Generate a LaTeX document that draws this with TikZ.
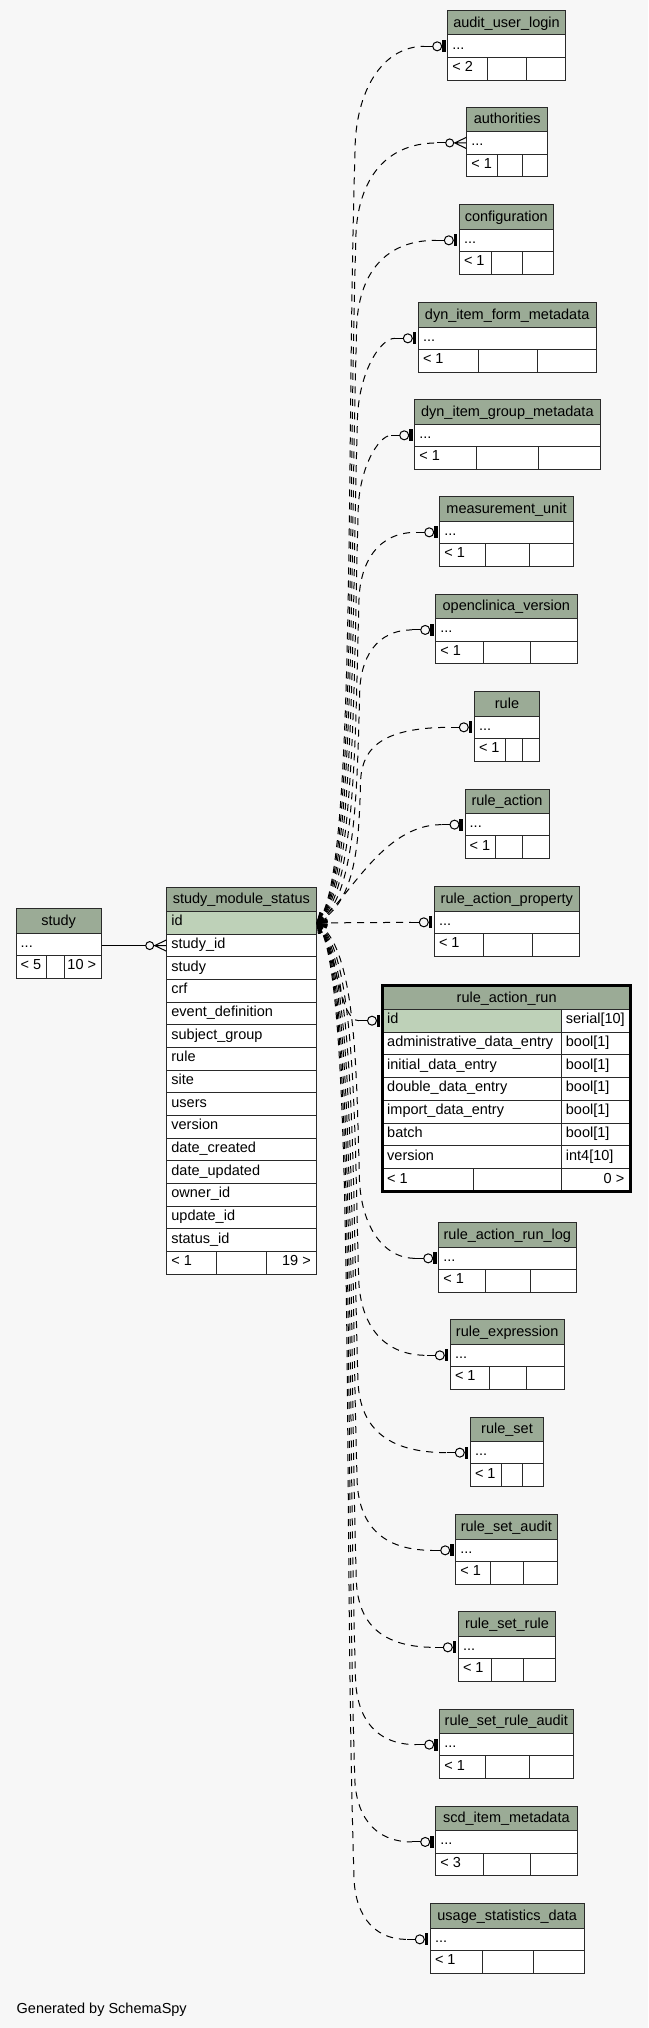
\documentclass[tikz,border=0pt]{standalone}
\usepackage{fontspec}
\setmainfont{Liberation Sans}
\usetikzlibrary{arrows.meta,fit,calc}
\definecolor{bg}{HTML}{F7F7F7}
\definecolor{hdr}{HTML}{9BAB96}
\definecolor{keyc}{HTML}{BED1B8}
\definecolor{bd}{HTML}{2A2A2A}
\tikzset{
 tline/.style={draw=bd, line width=1pt},
 hdrbox/.style={tline, fill=hdr, inner sep=0pt},
 rowbox/.style={tline, fill=white, inner sep=0pt},
 keybox/.style={tline, fill=keyc, inner sep=0pt},
 txt/.style={inner sep=0pt, font=\fontsize{14.5}{16}\selectfont, text=black},
 ctxt/.style={txt, anchor=base},
 ltxt/.style={txt, anchor=base west},
 rtxt/.style={txt, anchor=base east},
 fkline/.style={draw=black, line width=1pt, dash pattern=on 7pt off 6pt, {Straight Barb[length=9pt,width=10pt]}-},
 stemline/.style={draw=black, line width=1pt},
}
% small table: #1 node name, #2 title, #3 left, #4 right, #5 top, #6 split A, #7 split B, #8 footer
\newcommand{\tbl}[8]{%
 \node[hdrbox, fit={(#3,#5) ({#4},{#5+24.3})}] (#1-h) {};
 \node[ctxt] (#1-ht) at ({(#3+#4)/2},{#5+16.5}) {#2};
 \node[rowbox, fit={(#3,{#5+24.3}) (#4,{#5+46.95})}] (#1) {};
 \node[ltxt] (#1-dt) at ({#3+4.5},{#5+24.3+14.3}) {...};
 \node[rowbox, fit={(#3,{#5+46.95}) (#4,{#5+69.6})}] (#1-f) {};
 \draw[tline] (#6,{#5+46.95}) -- (#6,{#5+69.6}) (#7,{#5+46.95}) -- (#7,{#5+69.6});
 \node[ltxt] (#1-ft) at ({#3+4.5},{#5+46.95+14.3}) {#8};
}
% connector from study_module_status.id: #1 target node, #2 target y, #3 sign, #4 stem length, #5 bend size
\newcommand{\fk}[5]{%
 \pgfmathsetmacro{\fkdy}{abs(#2-922.9)}
 \pgfmathsetmacro{\fkxv}{362-0.008*\fkdy}
 \pgfmathsetmacro{\fkR}{#5}
 \pgfmathsetmacro{\fkVy}{#2-(#3)*\fkR}
 \pgfmathsetmacro{\fkCx}{\fkxv-0.012*(\fkdy-\fkR)}
 \pgfmathsetmacro{\fkCy}{\fkVy-(#3)*0.4*(\fkdy-\fkR)}
 \pgfmathsetmacro{\fkDy}{#2-(#3)*0.42*\fkR}
 \pgfmathsetmacro{\fkDx}{\fkxv+0.26*\fkR}
 \pgfmathsetmacro{\fkAy}{(#3)*(15+0.03*\fkdy)}
 \coordinate (#1-e) at ($(#1.west)+(-#4,0)$);
 \draw[fkline] (S) .. controls +(40,{\fkAy}) and ({\fkCx},{\fkCy}) .. ({\fkxv},{\fkVy}) .. controls ({\fkxv},{\fkDy}) and ({\fkDx},{#2}) .. (#1-e);
}
\newcommand{\zeroone}[1]{%
 \draw[stemline] ($(#1.west)+(-23,0)$) -- ($(#1.west)+(-14.5,0)$);
 \draw[stemline, fill=bg] ($(#1.west)+(-10,0)$) circle (4.5pt);
 \fill[black] ($(#1.west)+(-5.2,-6)$) rectangle ($(#1.west)+(-1.7,6)$);
}
\newcommand{\crowend}[1]{%
 \draw[stemline, fill=bg] ($(#1.west)+(-16.5,0)$) circle (4pt);
 \draw[stemline] ($(#1.west)+(-12.5,0)$) -- (#1.west)
   ($(#1.west)+(-11.5,0)$) -- ($(#1.west)+(0,-5.5)$)
   ($(#1.west)+(-11.5,0)$) -- ($(#1.west)+(0,5.5)$);
}
\begin{document}
\begin{tikzpicture}[x=1pt,y=-1pt]
\fill[bg] (0,0) rectangle (648,2028);
\useasboundingbox (0,0) rectangle (648,2028);

% ---- study
\node[hdrbox, fit={(16,908.7) (101.3,933)}] (study-h) {};
\node[ctxt] (study-ht) at (58.65,925.2) {study};
\node[rowbox, fit={(16,933) (101.3,955.65)}] (study-d) {};
\node[ltxt] (study-dt) at (20.5,947.3) {...};
\node[rowbox, fit={(16,955.65) (101.3,978.3)}] (study-f) {};
\draw[tline] (46.7,955.65) -- (46.7,978.3) (64,955.65) -- (64,978.3);
\node[ltxt] (study-f1) at (20.5,969.95) {< 5};
\node[rtxt] (study-f2) at (96.3,969.95) {10 >};

% ---- study_module_status
\node[hdrbox, fit={(166.7,887.3) (316,911.6)}] (sms-h) {};
\node[ctxt] (sms-ht) at (241.35,903.8) {study\_module\_status};
\node[keybox, fit={(166.7,911.6) (316,934.25)}] (smsid) {};
\node[ltxt] (smsidt) at (171.2,925.9) {id};
\foreach \i/\t in {1/study\_id,2/study,3/crf,4/event\_definition,5/subject\_group,6/rule,7/site,8/users,9/version,10/date\_created,11/date\_updated,12/owner\_id,13/update\_id,14/status\_id}{
 \node[rowbox, fit={(166.7,{911.6+\i*22.65}) (316,{911.6+\i*22.65+22.65})}] (sms\i) {};
 \node[ltxt] (smst\i) at (171.2,{911.6+\i*22.65+14.3}) {\t};
}
\node[rowbox, fit={(166.7,1251.35) (316,1274)}] (smsf) {};
\draw[tline] (216.7,1251.35) -- (216.7,1274) (266.7,1251.35) -- (266.7,1274);
\node[ltxt] (smsf1) at (171.2,1265.65) {< 1};
\node[rtxt] (smsf2) at (311,1265.65) {19 >};
\coordinate (S) at (smsid.east);

% ---- small tables
\tbl{aul}{audit\_user\_login}{447.7}{565.3}{10.7}{487.7}{526.3}{< 2}
\tbl{auth}{authorities}{466.7}{547.7}{107.3}{497}{522.3}{< 1}
\tbl{conf}{configuration}{459.3}{553.3}{204.7}{491.7}{522.7}{< 1}
\tbl{difm}{dyn\_item\_form\_metadata}{418.3}{596}{302.7}{478.7}{537}{< 1}
\tbl{digm}{dyn\_item\_group\_metadata}{414.7}{600}{399.7}{476.5}{538}{< 1}
\tbl{mu}{measurement\_unit}{439.7}{573.3}{496.7}{485}{529}{< 1}
\tbl{ocv}{openclinica\_version}{435.7}{577}{594.3}{483.7}{530.7}{< 1}
\tbl{rule}{rule}{474.3}{539.7}{691.7}{505}{522.3}{< 1}
\tbl{ra}{rule\_action}{465}{549}{789}{495.7}{522.3}{< 1}
\tbl{rap}{rule\_action\_property}{434.3}{579.3}{886.7}{483.7}{532}{< 1}
\tbl{rarl}{rule\_action\_run\_log}{438.7}{576}{1222.7}{485}{530.3}{< 1}
\tbl{rexp}{rule\_expression}{450.3}{564}{1319.7}{489}{526.7}{< 1}
\tbl{rset}{rule\_set}{470.3}{543.7}{1417}{501}{522.3}{< 1}
\tbl{rsa}{rule\_set\_audit}{455.7}{557}{1514.7}{490.3}{523.7}{< 1}
\tbl{rsr}{rule\_set\_rule}{458.3}{555.7}{1611.7}{491.7}{523.7}{< 1}
\tbl{rsra}{rule\_set\_rule\_audit}{439.7}{573}{1709}{485}{529}{< 1}
\tbl{scd}{scd\_item\_metadata}{435.7}{577}{1806.3}{483.7}{530.3}{< 3}
\tbl{usd}{usage\_statistics\_data}{430.3}{584}{1903.7}{482.3}{533}{< 1}

% ---- rule_action_run
\node[hdrbox, fit={(382.5,985.5) (630.8,1009.3)}] (rar-h) {};
\node[ctxt] (rar-ht) at (506.65,1002) {rule\_action\_run};
\node[keybox, fit={(382.5,1009.3) (561,1032.08)}] (rarid) {};
\node[rowbox, fit={(561,1009.3) (630.8,1032.08)}] (rarid-t) {};
\node[ltxt] (raridn) at (387,1023.6) {id};
\node[ltxt] (raridty) at (565.7,1023.6) {serial[10]};
\foreach \i/\n/\t in {1/administrative\_data\_entry/bool[1],2/initial\_data\_entry/bool[1],3/double\_data\_entry/bool[1],4/import\_data\_entry/bool[1],5/batch/bool[1],6/version/int4[10]}{
 \node[rowbox, fit={(382.5,{1009.3+\i*22.78}) (561,{1009.3+\i*22.78+22.78})}] (rarn\i) {};
 \node[rowbox, fit={(561,{1009.3+\i*22.78}) (630.8,{1009.3+\i*22.78+22.78})}] (rart\i) {};
 \node[ltxt] (rarnt\i) at (387,{1009.3+\i*22.78+14.3}) {\n};
 \node[ltxt] (rartt\i) at (565.7,{1009.3+\i*22.78+14.3}) {\t};
}
\node[rowbox, fit={(382.5,1168.76) (630.8,1191.5)}] (rarf) {};
\draw[tline] (473.3,1168.76) -- (473.3,1191.5) (561,1168.76) -- (561,1191.5);
\node[ltxt] (rarf1) at (387,1183.06) {< 1};
\node[rtxt] (rarf2) at (624.5,1183.06) {0 >};
\draw[draw=black, line width=3pt] (382.5,985.5) rectangle (630.8,1191.5);

% ---- connectors
\draw[stemline] (study-d.east |- sms1.west) -- ($(sms1.west)+(-20.5,0)$);
\crowend{sms1}

\fk{aul}{46.3}{-1}{23}{106}
\fk{auth}{142.9}{-1}{29}{99.6}
\fk{conf}{240.3}{-1}{23}{92.8}
\fk{difm}{338.3}{-1}{23}{85.9}
\fk{digm}{435.3}{-1}{23}{79.1}
\fk{mu}{532.3}{-1}{23}{72.3}
\fk{ocv}{629.9}{-1}{23}{65.5}
\fk{rule}{727.3}{-1}{23}{58.7}
\coordinate (ra-e) at ($(ra.west)+(-23,0)$);
\draw[fkline] (S) .. controls +(32,-22) and +(-60,0) .. (ra-e);
\coordinate (rap-e) at ($(rap.west)+(-23,0)$);
\draw[fkline] (S) -- (rap-e);
\coordinate (rar-e) at ($(rarid.west)+(-23,0)$);
\draw[fkline] (S) .. controls +(22,30) and +(-20,0) .. (rar-e);
\fk{rarl}{1258.3}{1}{23}{85}
\fk{rexp}{1355.3}{1}{23}{82}
\fk{rset}{1452.6}{1}{23}{78}
\fk{rsa}{1550.3}{1}{23}{75}
\fk{rsr}{1647.3}{1}{23}{72}
\fk{rsra}{1744.6}{1}{23}{70}
\fk{scd}{1841.9}{1}{23}{68}
\fk{usd}{1939.3}{1}{23}{66}

% ---- end markers
\zeroone{aul}
\draw[stemline] ($(auth.west)+(-29,0)$) -- ($(auth.west)+(-20.5,0)$);
\crowend{auth}
\zeroone{conf}
\zeroone{difm}
\zeroone{digm}
\zeroone{mu}
\zeroone{ocv}
\zeroone{rule}
\zeroone{ra}
\zeroone{rap}
\zeroone{rarid}
\zeroone{rarl}
\zeroone{rexp}
\zeroone{rset}
\zeroone{rsa}
\zeroone{rsr}
\zeroone{rsra}
\zeroone{scd}
\zeroone{usd}

\node[ltxt] (gen) at (16.5,2013.3) {Generated by SchemaSpy};
\end{tikzpicture}
\end{document}
